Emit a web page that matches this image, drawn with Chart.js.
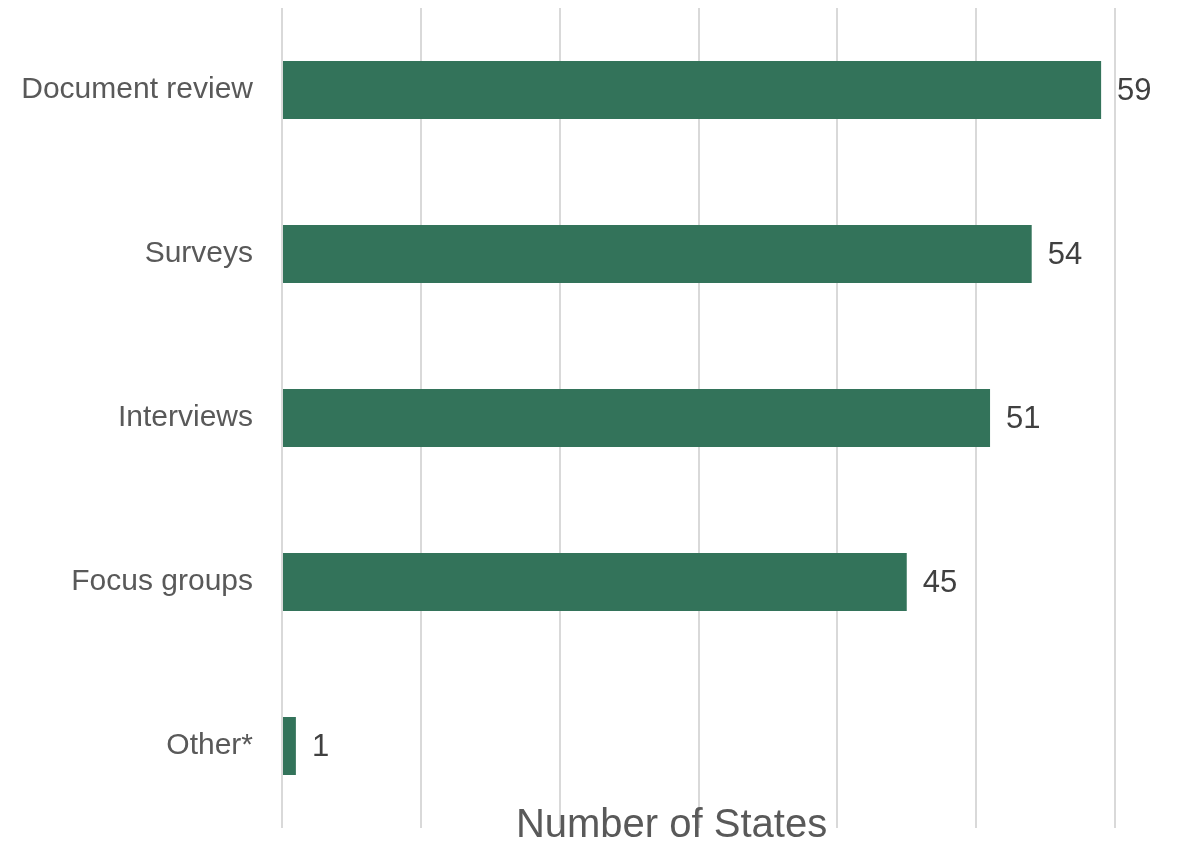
<!DOCTYPE html>
<html>
<head>
<meta charset="utf-8">
<script src="https://cdn.jsdelivr.net/npm/chart.js@4/dist/chart.umd.min.js"></script>
<style>
  html, body { margin: 0; padding: 0; background: #fff; }
  #wrap { width: 1181px; height: 841px; }
</style>
</head>
<body>
<div id="wrap"><canvas id="myChart"></canvas></div>
<script>
const categories = ['Document review', 'Surveys', 'Interviews', 'Focus groups', 'Other*'];
const stateCounts = [59, 54, 51, 45, 1];
const axisTitle = 'Number of States';

const fontFamily = '"Liberation Sans", Arial, sans-serif';

// value labels next to each bar
const barLabels = {
    id: 'barLabels',
    afterDatasetsDraw(chart) {
        const { ctx } = chart;
        const meta = chart.getDatasetMeta(0);
        ctx.save();
        ctx.font = '31px ' + fontFamily;
        ctx.fillStyle = '#404040';
        ctx.textBaseline = 'middle';
        meta.data.forEach((bar, i) => {
            ctx.fillText(String(stateCounts[i]), bar.x + 16, bar.y + 1);
        });
        ctx.restore();
    }
};

// axis title sits over the bottom of the plot, like the original
const bottomTitle = {
    id: 'bottomTitle',
    afterDraw(chart) {
        const { ctx, chartArea } = chart;
        ctx.save();
        ctx.font = '40px ' + fontFamily;
        ctx.fillStyle = '#595959';
        ctx.textAlign = 'center';
        ctx.textBaseline = 'alphabetic';
        const mid = (chartArea.left + chartArea.right) / 2 - 27;
        ctx.fillText(axisTitle, mid, chartArea.bottom + 9);
        ctx.restore();
    }
};

const ctx = document.getElementById('myChart').getContext('2d');
new Chart(ctx, {
    type: 'bar',
    data: {
        labels: categories,
        datasets: [{
            data: stateCounts,
            backgroundColor: '#33735A',
            categoryPercentage: 1,
            barPercentage: 0.354
        }]
    },
    options: {
        indexAxis: 'y',
        responsive: true,
        maintainAspectRatio: false,
        animation: false,
        layout: { padding: { top: 8, right: 66, bottom: 13, left: 0 } },
        plugins: {
            legend: { display: false },
            tooltip: { enabled: false }
        },
        scales: {
            x: {
                min: 0,
                max: 60,
                ticks: { display: false, stepSize: 10 },
                grid: { color: '#d9d9d9', lineWidth: 2, drawTicks: false },
                border: { display: false },
                afterFit(scale) { scale.height = 0; scale.paddingLeft = 0; scale.paddingRight = 0; }
            },
            y: {
                grid: { display: false, drawTicks: false },
                border: { display: false },
                ticks: {
                    color: '#595959',
                    font: { family: fontFamily, size: 30 },
                    padding: 29
                },
                afterFit(scale) {
                    scale.width = 282;
                    scale.paddingTop = 0;
                    scale.paddingBottom = 0;
                }
            }
        }
    },
    plugins: [barLabels, bottomTitle]
});
</script>
</body>
</html>
